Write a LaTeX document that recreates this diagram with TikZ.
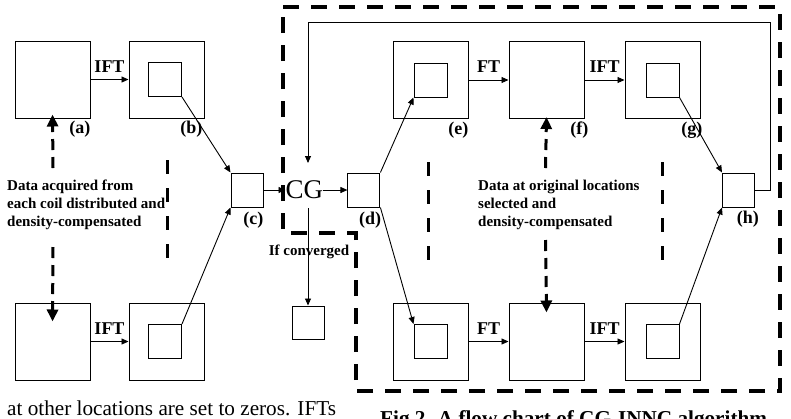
\documentclass[tikz,border=0pt]{standalone}
\usepackage{fontspec}
\setmainfont{Liberation Serif}
\usetikzlibrary{arrows.meta,chains,positioning}

\begin{document}
\begin{tikzpicture}[
  x=1pt,y=-1pt,
  node distance=40pt,
  start chain=leftup going right,
  start chain=leftdown going right,
  start chain=middle going right,
  start chain=rightup going right,
  start chain=rightdown going right,
  frame/.style={draw,line width=1pt,minimum width=75pt,minimum height=77pt,inner sep=0pt},
  window/.style={draw,line width=1pt,minimum width=33pt,minimum height=34pt,inner sep=0pt},
  cell/.style={draw,line width=1pt,minimum width=32pt,minimum height=34pt,inner sep=0pt},
  solver/.style={font=\fontsize{27}{30}\selectfont,inner sep=0pt},
  tag/.style={font=\fontsize{18}{20}\selectfont\bfseries,inner sep=0pt,anchor=north east},
  op/.style={font=\fontsize{18}{20}\selectfont\bfseries,inner sep=1pt,above=6pt},
  note/.style={font=\fontsize{15}{18}\selectfont\bfseries,align=left,inner sep=0pt},
  conn/.style={line width=0.9pt,-{Triangle[length=7pt,width=6pt]}},
  feed/.style={line width=3pt,dash pattern=on 11pt off 7pt,-{Triangle[length=12pt,width=11pt]}},
  guide/.style={line width=3pt,dash pattern=on 14pt off 14pt},
  region/.style={line width=3.5pt,dash pattern=on 16pt off 12pt},
  every on chain/.style={join},
  every join/.style={conn}
]
  \useasboundingbox (0,0) rectangle (791,418);
  \clip (0,0) rectangle (791,418);

  \node[frame,on chain=leftup] (data-top) at (52.5,79.5) {};
  \node[frame,node distance=38pt,on chain=leftup] (image-top) {};
  \node[window] (image-top-roi) at ([xshift=-1.5pt]image-top.center) {};
  \path (data-top) -- node[op] {IFT} (image-top);

  \node[frame,on chain=leftdown] (data-bot) at (52.5,341.5) {};
  \node[frame,node distance=38pt,on chain=leftdown] (image-bot) {};
  \node[window] (image-bot-roi) at ([xshift=-1.5pt]image-bot.center) {};
  \path (data-bot) -- node[op] {IFT} (image-bot);

  \node[cell,on chain=middle] (coil-sum) at (247,190) {};
  \node[solver,node distance=22pt,on chain=middle] (cg) {CG};
  \node[cell,node distance=24pt,on chain=middle] (estimate) {};

  \node[frame,on chain=rightup] (est-top) at (430.5,80) {};
  \node[frame,on chain=rightup] (kdata-top) {};
  \node[frame,on chain=rightup] (back-top) {};
  \node[window] (est-top-roi) at (est-top.center) {};
  \node[window] (back-top-roi) at (back-top.center) {};
  \path (est-top) -- node[op] {FT} (kdata-top);
  \path (kdata-top) -- node[op] {IFT} (back-top);

  \node[frame,on chain=rightdown] (est-bot) at (430.5,341.5) {};
  \node[frame,on chain=rightdown] (kdata-bot) {};
  \node[frame,on chain=rightdown] (back-bot) {};
  \node[window] (est-bot-roi) at (est-bot.center) {};
  \node[window] (back-bot-roi) at (back-bot.center) {};
  \path (est-bot) -- node[op] {FT} (kdata-bot);
  \path (kdata-bot) -- node[op] {IFT} (back-bot);

  \node[cell] (update) at (738.5,190) {};
  \node[cell,minimum height=33pt] (result) at (308.5,322.5) {};

  \node[tag,yshift=-2pt] at (data-top.south east) {(a)};
  \node[tag,xshift=-2pt,yshift=-2pt] at (image-top.south east) {(b)};
  \node[tag,yshift=-4pt] at (coil-sum.south east) {(c)};
  \node[tag,xshift=1pt,yshift=-4pt] at (estimate.south east) {(d)};
  \node[tag,yshift=-3pt] at (est-top.south east) {(e)};
  \node[tag,xshift=4pt,yshift=-3pt] at (kdata-top.south east) {(f)};
  \node[tag,xshift=2pt,yshift=-3pt] at (back-top.south east) {(g)};
  \node[tag,xshift=4pt,yshift=-3pt] at (update.south east) {(h)};

  \draw[conn] (image-top-roi.south east) -- (coil-sum.north west);
  \draw[conn] (image-bot-roi.north east) -- (coil-sum.south west);
  \draw[conn] (estimate.north east) -- (est-top-roi.south west);
  \draw[conn] (estimate.south east) -- (est-bot-roi.north west);
  \draw[conn] (back-top-roi.south east) -- (update.north west);
  \draw[conn] (back-bot-roi.north east) -- (update.south west);

  \coordinate (loop-corner) at (770,22);
  \coordinate (cg-in) at (308,163);
  \coordinate (cg-out) at (308,208);
  \draw[conn] (update.east) -| (loop-corner) -| (cg-in);
  \draw[conn] (cg-out) -- (cg-out |- result.north);
  \node[note] (conv-note) at (309,252) {If converged};

  \node[note,anchor=west] (acq-note) at (7,204.5)
    {Data acquired from\\each coil distributed and\\density-compensated};
  \node[note,anchor=west] (sel-note) at (478,204.5)
    {Data at original locations\\selected and\\density-compensated};

  \coordinate (acq-up) at (53,168);
  \coordinate (acq-down) at (53,247);
  \coordinate (sel-up) at (545.5,168);
  \coordinate (sel-down) at (545.5,240);
  \draw[feed] (acq-up) -- ([yshift=4pt]data-top.south);
  \draw[feed] (acq-down) -- ([yshift=-19pt]data-bot.north);
  \draw[feed] (sel-up) -- ([yshift=2pt]kdata-top.south);
  \draw[feed] (sel-down) -- ([yshift=-10pt]kdata-bot.north);

  \draw[guide] (167,160) -- (167,260);
  \draw[guide] (428,162) -- (428,260);
  \draw[guide] (662,162) -- (662,260);

  \draw[region] (283,7) -- (780,7) -- (780,391) -- (356,391) -- (356,233) -- (283,233) -- cycle;

  \node[anchor=base west,inner sep=0pt,font=\fontsize{21.2}{25}\selectfont] (tail-text) at (7,415)
    {at other locations are set to zeros. IFTs};
  \node[anchor=base west,inner sep=0pt,font=\fontsize{21.2}{25}\selectfont\bfseries] (caption) at (380,425)
    {Fig 2. A flow chart of CG-INNC algorithm};
\end{tikzpicture}
\end{document}
